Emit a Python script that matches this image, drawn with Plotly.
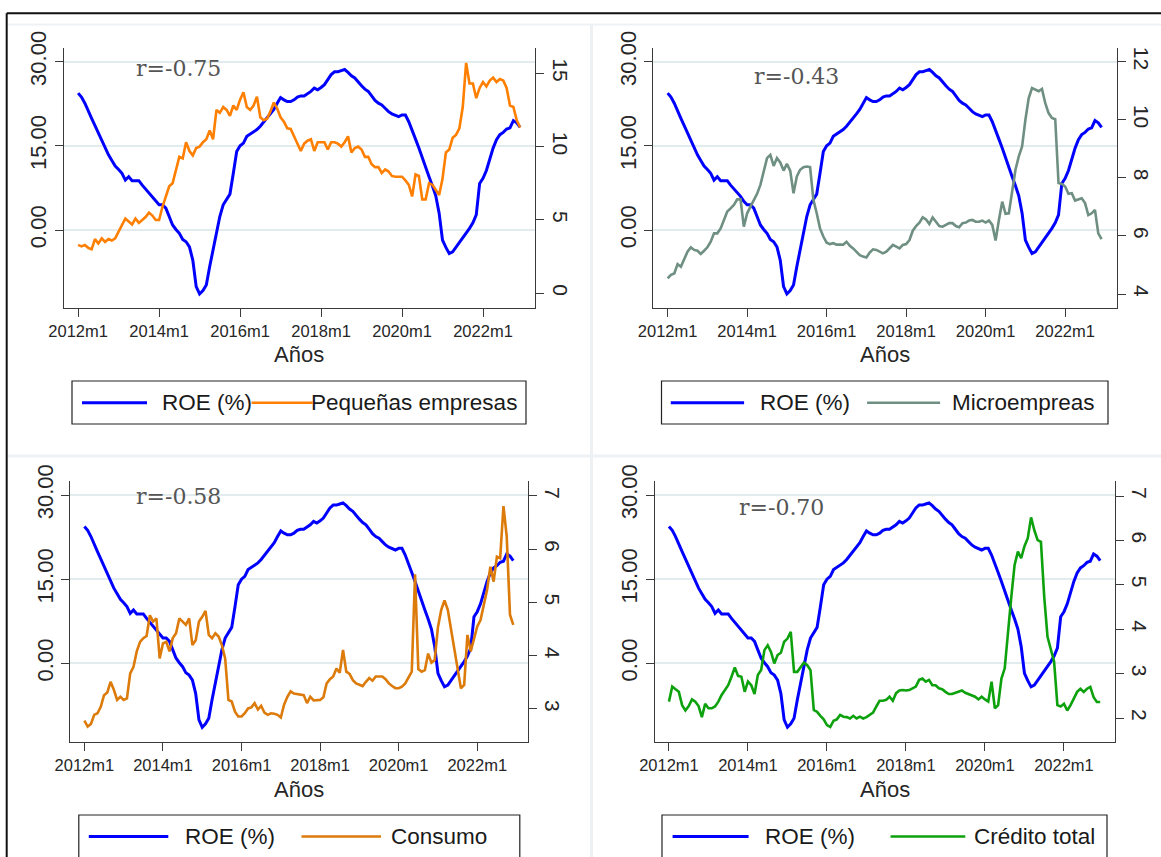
import plotly.graph_objects as go

# ---------------- data ----------------
month_labels = [f"{2012 + i // 12}m{i % 12 + 1}" for i in range(132)]  # 2012m1 .. 2022m12
tick_vals = ["2012m1", "2014m1", "2016m1", "2018m1", "2020m1", "2022m1"]

roe = [24.4, 23.7, 22.6, 21.1, 19.9, 18.6, 17.3, 16.1, 14.6, 13.4,
       12.4, 11.4, 10.8, 10.1, 8.9, 9.5, 8.8, 8.8, 8.8, 8.0,
       7.3, 6.7, 6.0, 5.1, 4.5, 4.5, 3.9, 2.4, 0.9, 0.1,
       -0.6, -1.7, -2.1, -3.0, -5.4, -10.1, -11.4, -10.8, -9.8, -6.5,
       -3.3, -0.6, 2.4, 4.5, 5.5, 6.4, 10.1, 14.0, 15.0, 15.5,
       16.7, 17.1, 17.6, 17.9, 18.5, 19.2, 19.9, 20.7, 21.5, 22.6,
       23.6, 23.2, 22.9, 22.9, 23.2, 23.7, 23.9, 23.9, 24.3, 24.7,
       25.3, 25.0, 25.4, 25.9, 26.8, 27.7, 28.2, 28.2, 28.4, 28.6,
       28.1, 27.5, 27.1, 26.3, 25.7, 25.1, 24.7, 23.9, 23.1, 22.6,
       22.3, 21.7, 21.1, 20.7, 20.4, 20.2, 20.5, 20.5, 19.3, 17.9,
       16.2, 14.6, 12.8, 11.0, 9.5, 7.9, 6.1, 3.0, -1.8, -3.1,
       -4.2, -3.9, -3.1, -2.1, -1.3, -0.5, 0.3, 1.3, 2.7, 8.3,
       9.2, 10.6, 12.8, 14.6, 16.1, 17.0, 17.4, 18.0, 18.2, 19.5,
       19.1, 18.3]

pequenas = [3.3, 3.2, 3.3, 3.1, 3.0, 3.7, 3.4, 3.75, 3.5, 3.7,
            3.6, 3.75, 4.2, 4.7, 5.1, 4.9, 4.7, 5.1, 4.8, 5.0,
            5.2, 5.5, 5.3, 5.0, 5.0, 5.9, 6.6, 7.3, 7.5, 8.4,
            9.3, 9.2, 10.3, 9.7, 9.4, 9.9, 10.0, 10.3, 10.5, 11.1,
            10.5, 12.5, 12.3, 12.7, 12.5, 12.1, 12.8, 12.5, 13.2, 13.7,
            12.7, 12.5, 12.8, 13.4, 12.0, 11.8, 11.9, 12.4, 13.0, 12.6,
            12.0, 11.7, 11.25, 11.2, 10.7, 10.2, 9.7, 10.2, 10.4, 10.5,
            9.7, 10.3, 10.3, 10.3, 9.8, 10.3, 10.3, 10.2, 10.0, 10.3,
            10.7, 9.6, 9.9, 10.0, 9.8, 9.3, 9.3, 8.8, 8.6, 8.6,
            8.2, 8.45, 8.3, 8.0, 7.95, 7.95, 7.95, 7.7, 7.4, 6.6,
            8.1, 8.0, 6.4, 6.4, 7.5, 7.4, 7.0, 6.7, 7.8, 9.6,
            9.8, 10.6, 10.8, 11.25, 12.7, 15.7, 14.3, 14.3, 13.3, 14.0,
            14.4, 14.1, 14.5, 14.7, 14.4, 14.6, 14.5, 14.0, 12.8, 12.7,
            11.8, 11.3]

micro = [4.54, 4.66, 4.71, 5.03, 4.94, 5.23, 5.46, 5.61, 5.52, 5.49,
         5.38, 5.49, 5.61, 5.80, 6.09, 6.09, 6.26, 6.55, 6.84, 6.95,
         7.07, 7.26, 7.26, 6.32, 6.78, 7.01, 7.24, 7.45, 7.76, 8.22,
         8.68, 8.79, 8.41, 8.68, 8.53, 8.25, 8.48, 8.25, 7.47, 8.05,
         8.28, 8.37, 8.39, 8.37, 7.24, 6.78, 6.26, 5.98, 5.77, 5.72,
         5.75, 5.70, 5.69, 5.70, 5.80, 5.66, 5.57, 5.46, 5.34, 5.29,
         5.26, 5.43, 5.54, 5.52, 5.46, 5.40, 5.46, 5.57, 5.69, 5.63,
         5.57, 5.69, 5.72, 5.86, 6.18, 6.34, 6.46, 6.64, 6.57, 6.41,
         6.64, 6.49, 6.34, 6.32, 6.38, 6.44, 6.44, 6.34, 6.30, 6.44,
         6.46, 6.53, 6.55, 6.49, 6.49, 6.53, 6.46, 6.53, 6.38, 5.84,
         6.55, 7.18, 6.76, 6.78, 7.53, 8.28, 8.74, 9.08, 10.0, 10.75,
         11.09, 11.03, 10.98, 11.06, 10.57, 10.23, 10.06, 10.02, 7.82, 7.79,
         7.70, 7.45, 7.47, 7.22, 7.26, 7.30, 7.13, 6.72, 6.78, 6.90,
         6.09, 5.89]

consumo = [2.78, 2.67, 2.72, 2.89, 2.92, 3.04, 3.26, 3.31, 3.51, 3.36,
           3.17, 3.23, 3.17, 3.20, 3.67, 3.79, 4.08, 4.26, 4.33, 4.37,
           4.76, 4.64, 4.70, 3.95, 4.23, 4.26, 4.08, 4.33, 4.42, 4.70,
           4.64, 4.58, 4.70, 4.20, 4.29, 4.64, 4.73, 4.84, 4.39, 4.33,
           4.42, 4.36, 4.20, 3.95, 3.17, 3.14, 2.95, 2.86, 2.86, 2.92,
           3.01, 3.03, 3.11, 2.99, 3.06, 2.93, 2.89, 2.92, 2.91, 2.89,
           2.84, 3.08, 3.23, 3.33, 3.29, 3.28, 3.26, 3.26, 3.11, 3.23,
           3.16, 3.17, 3.17, 3.22, 3.48, 3.56, 3.61, 3.76, 3.68, 4.11,
           3.70, 3.66, 3.54, 3.48, 3.45, 3.43, 3.51, 3.58, 3.53, 3.61,
           3.61, 3.61, 3.56, 3.48, 3.43, 3.39, 3.39, 3.42, 3.48, 3.58,
           3.70, 5.53, 3.75, 3.70, 3.73, 4.04, 3.87, 3.92, 4.54, 4.86,
           5.04, 4.86, 4.48, 4.11, 3.73, 3.39, 3.45, 4.39, 4.08, 4.30,
           4.55, 4.67, 4.99, 5.24, 5.67, 5.39, 5.86, 5.83, 6.81, 6.24,
           4.77, 4.58]

credito = [2.37, 2.71, 2.65, 2.59, 2.29, 2.17, 2.27, 2.42, 2.37, 2.27,
           2.02, 2.32, 2.22, 2.22, 2.26, 2.37, 2.52, 2.63, 2.74, 2.93,
           3.14, 2.95, 2.93, 2.59, 2.82, 2.74, 2.54, 2.97, 3.08, 3.53,
           3.64, 3.49, 3.23, 3.42, 3.47, 3.72, 3.79, 3.94, 3.04, 3.04,
           3.16, 3.25, 3.19, 3.08, 2.18, 2.14, 2.05, 1.97, 1.84, 1.80,
           1.94, 1.97, 2.07, 2.03, 2.02, 1.99, 2.05, 1.99, 2.03, 1.99,
           2.02, 2.07, 2.12, 2.26, 2.39, 2.39, 2.41, 2.48, 2.39, 2.56,
           2.62, 2.63, 2.62, 2.63, 2.67, 2.71, 2.86, 2.89, 2.82, 2.86,
           2.74, 2.74, 2.67, 2.65, 2.59, 2.54, 2.54, 2.57, 2.59, 2.62,
           2.57, 2.54, 2.50, 2.48, 2.42, 2.48, 2.42, 2.37, 2.82, 2.22,
           2.29, 2.89, 3.12, 3.98, 4.73, 5.45, 5.75, 5.60, 5.87, 6.05,
           6.52, 6.23, 6.01, 5.97, 4.73, 3.83, 3.53, 3.27, 2.29, 2.26,
           2.32, 2.17, 2.29, 2.44, 2.59, 2.66, 2.59, 2.66, 2.70, 2.47,
           2.36, 2.36]

series_names = ["Pequeñas empresas", "Microempreas", "Consumo", "Crédito total"]
series_values = [pequenas, micro, consumo, credito]
corr_labels = ["r=-0.75", "r=-0.43", "r=-0.58", "r=-0.70"]
right_ticks = [[0, 5, 10, 15], [4, 6, 8, 10, 12], [3, 4, 5, 6, 7], [2, 3, 4, 5, 6, 7]]
roe_ticks = [0, 15, 30]

# ---------------- layout config (pixels) ----------------
W, H = 1161, 857
def fx(p): return p / W
def fy(p): return 1 - p / H

BLUE = "#0000FF"
colors = ["#FF7F00", "#6F8F82", "#DC7A0A", "#0EA10E"]
panel_cfg = [
    dict(xd=(63.6, 535.3), yd=(48, 308), yl=(-13.9, 32.44), yr=(-1.0, 16.72),
         rpos=(134, 68.3), title_y=355,
         box=(72, 381, 526, 424), k1=(82, 147), t1=159.7, k2=(251.6, 312.6), t2=308.8, ky=402.7),
    dict(xd=(653.4, 1116.5), yd=(48, 308), yl=(-13.9, 32.44), yr=(3.52, 12.47),
         rpos=(752, 76.7), title_y=355,
         box=(661.5, 381, 1108, 424), k1=(670.8, 744.1), t1=758.4, k2=(867.1, 940.1), t2=950.4, ky=402.7),
    dict(xd=(70.3, 528), yd=(481, 742), yl=(-14.03, 32.5), yr=(2.38, 7.28),
         rpos=(134, 496.7), title_y=789,
         box=(78.8, 815, 519.8, 880), k1=(88.8, 168.3), t1=183, k2=(301.5, 381), t2=389.4, ky=836.5),
    dict(xd=(654.8, 1115), yd=(481, 742), yl=(-14.03, 32.5), yr=(1.46, 7.34),
         rpos=(737, 507.3), title_y=789,
         box=(662, 815, 1107, 880), k1=(672.6, 748.6), t1=763.3, k2=(890.5, 965.3), t2=971.5, ky=836.5),
]

AXIS = "#3a3a3a"
GRID = "#E2ECEE"
TXT = "#262626"

fig = go.Figure()
layout = dict(width=W, height=H, autosize=False, margin=dict(l=0, r=0, t=0, b=0, pad=0),
              paper_bgcolor="white", plot_bgcolor="white", showlegend=False)
shapes, annotations = [], []

for i, cfg in enumerate(panel_cfg):
    xn = "" if i == 0 else str(i + 1)
    yl_n = "" if i == 0 else str(2 * i + 1)
    yr_n = str(2 * i + 2)
    xref, ylref, yrref = "x" + xn, "y" + yl_n, "y" + yr_n

    fig.add_trace(go.Scatter(x=month_labels, y=roe, mode="lines", name="ROE (%)",
                             xaxis=xref, yaxis=ylref, line=dict(color=BLUE, width=3)))
    fig.add_trace(go.Scatter(x=month_labels, y=series_values[i], mode="lines", name=series_names[i],
                             xaxis=xref, yaxis=yrref, line=dict(color=colors[i], width=2.6)))

    layout["xaxis" + xn] = dict(
        domain=[fx(cfg["xd"][0]), fx(cfg["xd"][1])], anchor=ylref, type="category",
        range=[-4.3, 135.5], tickmode="array", tickvals=tick_vals, ticktext=tick_vals,
        showline=True, linecolor=AXIS, linewidth=1, ticks="outside", ticklen=8, tickcolor=AXIS,
        showgrid=False, zeroline=False, automargin=False,
        tickfont=dict(family="Liberation Sans", size=16.5, color=TXT))
    layout["yaxis" + yl_n] = dict(
        domain=[fy(cfg["yd"][1]), fy(cfg["yd"][0])], anchor=xref, range=list(cfg["yl"]),
        tickmode="array", tickvals=roe_ticks, ticktext=[f"{v:.2f}" for v in roe_ticks],
        tickangle=-90, showline=True, linecolor=AXIS, linewidth=1, ticks="outside", ticklen=8,
        tickcolor=AXIS, showgrid=True, gridcolor=GRID, gridwidth=2, zeroline=False, automargin=False,
        tickfont=dict(family="Liberation Sans", size=22, color=TXT))
    layout["yaxis" + yr_n] = dict(
        overlaying=ylref, side="right", anchor=xref, range=list(cfg["yr"]),
        tickmode="array", tickvals=right_ticks[i], ticktext=[str(v) for v in right_ticks[i]],
        tickangle=90, showline=True, linecolor=AXIS, linewidth=1, ticks="outside", ticklen=8,
        tickcolor=AXIS, showgrid=False, zeroline=False, automargin=False,
        tickfont=dict(family="Liberation Sans", size=21, color=TXT))

    # x-axis title
    annotations.append(dict(text="Años", x=fx((cfg["xd"][0] + cfg["xd"][1]) / 2), y=fy(cfg["title_y"]),
                            xref="paper", yref="paper", xanchor="center", yanchor="middle",
                            showarrow=False, font=dict(family="Liberation Sans", size=22, color=TXT)))
    # correlation label
    annotations.append(dict(text=corr_labels[i], x=fx(cfg["rpos"][0]), y=fy(cfg["rpos"][1]),
                            xref="paper", yref="paper", xanchor="left", yanchor="middle",
                            showarrow=False, font=dict(family="DejaVu Serif", size=22, color="#555555")))
    # legend box
    b = cfg["box"]
    shapes.append(dict(type="rect", xref="paper", yref="paper", x0=fx(b[0]), x1=fx(b[2]),
                       y0=fy(b[3]), y1=fy(b[1]), line=dict(color="#222", width=1.2), fillcolor="white",
                       layer="below"))
    for (k0, k1), col, lw in [(cfg["k1"], BLUE, 3), (cfg["k2"], colors[i], 2.6)]:
        shapes.append(dict(type="line", xref="paper", yref="paper", x0=fx(k0), x1=fx(k1),
                           y0=fy(cfg["ky"]), y1=fy(cfg["ky"]), line=dict(color=col, width=lw)))
    for tx, label in [(cfg["t1"], "ROE (%)"), (cfg["t2"], series_names[i])]:
        annotations.append(dict(text=label, x=fx(tx), y=fy(cfg["ky"]), xref="paper", yref="paper",
                                xanchor="left", yanchor="middle", showarrow=False,
                                font=dict(family="Liberation Sans", size=22.5, color="#1a1a1a")))

# faint sub-graph region borders
FAINT = "#EDF1F3"
shapes += [
    dict(type="line", xref="paper", yref="paper", x0=fx(8), x1=1, y0=fy(24.5), y1=fy(24.5),
         line=dict(color=FAINT, width=2), layer="below"),
    dict(type="line", xref="paper", yref="paper", x0=fx(8), x1=1, y0=fy(456), y1=fy(456),
         line=dict(color=FAINT, width=3), layer="below"),
    dict(type="line", xref="paper", yref="paper", x0=fx(591.5), x1=fx(591.5), y0=0, y1=fy(25),
         line=dict(color=FAINT, width=3), layer="below"),
    # outer black frame (top and left)
    dict(type="line", xref="paper", yref="paper", x0=fx(6.7), x1=1, y0=fy(13.3), y1=fy(13.3),
         line=dict(color="#111", width=2)),
    dict(type="line", xref="paper", yref="paper", x0=fx(6.7), x1=fx(6.7), y0=0, y1=fy(13.3),
         line=dict(color="#111", width=2)),
]

layout["shapes"] = shapes
layout["annotations"] = annotations
fig.update_layout(**layout)
fig.write_html("out.html")
